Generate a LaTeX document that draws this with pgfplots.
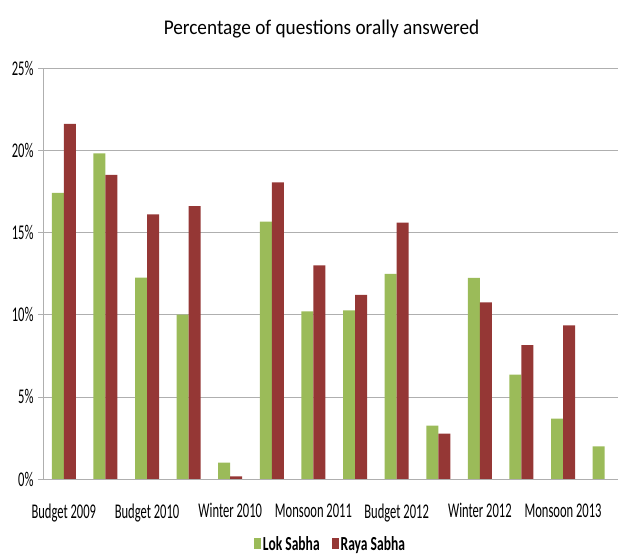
\documentclass[border=0pt]{standalone}
\usepackage{fontspec}
\setmainfont{Carlito}[FakeStretch=0.6]
\newfontfamily\titlefont{Carlito}[FakeStretch=0.92]
\newfontfamily\legfont{Carlito}[FakeStretch=0.68]
\usepackage{pgfplots}
\pgfplotsset{compat=1.18}
\definecolor{lokgreen}{RGB}{155,187,89}
\definecolor{rayared}{RGB}{149,55,53}
\definecolor{gridgray}{RGB}{175,175,175}
\begin{document}
\begin{tikzpicture}
\path[use as bounding box] (0,0) rectangle (618bp,556bp);
\begin{axis}[
  at={(43bp,77bp)}, anchor=south west,
  scale only axis, width=575bp, height=411bp,
  ybar=0pt, bar width=12bp,
  ymin=0, ymax=25, ytick={0,5,...,25},
  xmin=-0.5, xmax=13.32,
  xtick={0,2,4,6,8,10,12},
  xticklabels={Budget 2009,Budget 2010,Winter 2010,Monsoon 2011,Budget 2012,Winter 2012,Monsoon 2013},
  xtick style={draw=none},
  ytick style={draw=gridgray, thin},
  tick align=outside, major tick length=5bp,
  ymajorgrids, grid style={gridgray, thin},
  axis x line*=bottom, axis y line*=left,
  axis line style={gridgray, thin, -},
  /pgf/number format/assume math mode=true,
  yticklabel={\pgfmathprintnumber{\tick}\%},
  tick label style={font=\fontsize{21}{24}\selectfont},
  yticklabel style={xshift=-1bp},
  xticklabel style={yshift=-16bp},
  title={Percentage of questions orally answered},
  title style={font=\titlefont\fontsize{21}{24}\selectfont, yshift=20bp, xshift=-9bp},
  legend columns=2,
  legend style={at={(0.5,0)}, anchor=center, yshift=-65bp, draw=none, fill=none,
    font=\legfont\bfseries\fontsize{20}{24}\selectfont,
    /tikz/every even column/.append style={column sep=10bp}},
  legend image code/.code={\fill[#1] (0bp,-5bp) rectangle (7bp,6bp);},
]
\addplot[fill=lokgreen, draw=none] coordinates {
 (0,17.4) (1,19.8) (2,12.25) (3,10.0) (4,1.0) (5,15.65) (6,10.2)
 (7,10.26) (8,12.47) (9,3.24) (10,12.23) (11,6.35) (12,3.67) (13,1.99)};
\addplot[fill=rayared, draw=none] coordinates {
 (0,21.6) (1,18.5) (2,16.1) (3,16.6) (4,0.16) (5,18.05) (6,13.0)
 (7,11.2) (8,15.6) (9,2.76) (10,10.75) (11,8.15) (12,9.35)};
\legend{Lok Sabha, Raya Sabha}
\end{axis}
\end{tikzpicture}
\end{document}
